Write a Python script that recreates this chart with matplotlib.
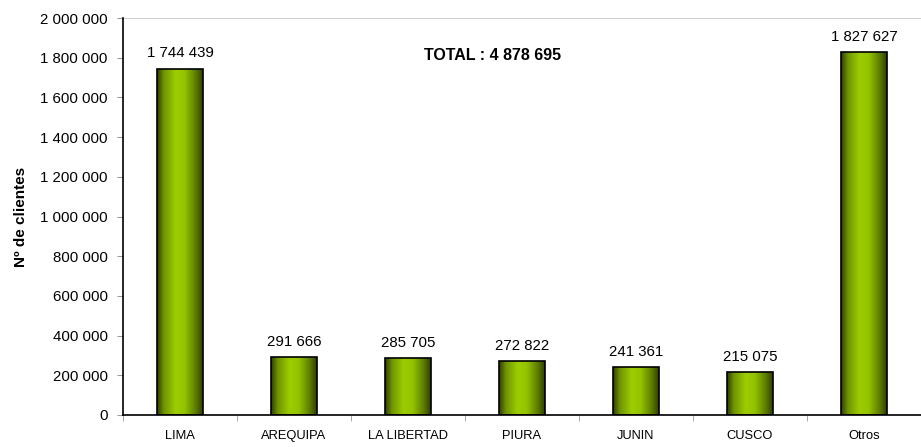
import numpy as np
import matplotlib.pyplot as plt
from matplotlib.colors import LinearSegmentedColormap
from matplotlib.ticker import FuncFormatter

plt.rcParams['font.family'] = ['Liberation Sans', 'DejaVu Sans']

regions = ["LIMA", "AREQUIPA", "LA LIBERTAD", "PIURA", "JUNIN", "CUSCO", "Otros"]
clients = [1744439, 291666, 285705, 272822, 241361, 215075, 1827627]
total_label = "TOTAL : 4 878 695"
y_ticks = [0, 200000, 400000, 600000, 800000, 1000000, 1200000, 1400000, 1600000, 1800000, 2000000]


def spaced(v):
    return f"{int(v):,}".replace(",", " ")


# cylinder-like shading of the bars, dark edges and a bright band left of centre
shade = LinearSegmentedColormap.from_list(
    "shade",
    [(0.0, "#2f3d00"), (0.15, "#6f9400"), (0.40, "#9ccc00"),
     (0.60, "#94c400"), (0.85, "#5c7a00"), (1.0, "#2f3d00")])

fig = plt.figure(figsize=(9.21, 4.47), dpi=100)
ax = fig.add_axes([123 / 921, 32 / 447, 798 / 921, 397 / 447])

x = np.arange(len(regions))
width = 0.4
bars = ax.bar(x, clients, width=width, color="none", edgecolor="black", linewidth=1.2, zorder=3)

grad = np.linspace(0, 1, 256).reshape(1, -1)
for b in bars:
    x0, y0 = b.get_x(), b.get_y()
    w, h = b.get_width(), b.get_height()
    im = ax.imshow(grad, cmap=shade, aspect="auto", extent=[x0, x0 + w, y0, y0 + h], zorder=2)
    im.set_clip_path(b)

for xi, v in zip(x, clients):
    ax.annotate(spaced(v), (xi, v), xytext=(0, 6), textcoords="offset points",
                ha="center", va="bottom", fontsize=10.8)

ax.text(2.745, 1813000, total_label, ha="center", va="center", fontsize=11.5, fontweight="bold")

ax.set_xlim(-0.5, len(regions) - 0.5)
ax.set_ylim(0, 2000000)
ax.set_yticks(y_ticks)
ax.yaxis.set_major_formatter(FuncFormatter(lambda v, p: spaced(v)))
ax.set_ylabel("Nº de clientes", fontsize=11, fontweight="bold", labelpad=9)

ax.set_xticks(x)
ax.set_xticklabels(regions, fontsize=9.3)
ax.set_xticks(np.arange(-0.5, len(regions), 1.0), minor=True)
ax.tick_params(axis="x", which="major", length=0, pad=11)
ax.tick_params(axis="x", which="minor", length=4, color="#999999")
ax.tick_params(axis="y", length=4, color="#999999", labelsize=10.8, pad=7)

ax.axhline(2000000, color="#c8c8c8", linewidth=1.2, zorder=1)
for s in ["top", "right"]:
    ax.spines[s].set_visible(False)
ax.spines["left"].set_linewidth(1.2)
ax.spines["bottom"].set_linewidth(1.2)

fig.savefig("out.png", dpi=100)
